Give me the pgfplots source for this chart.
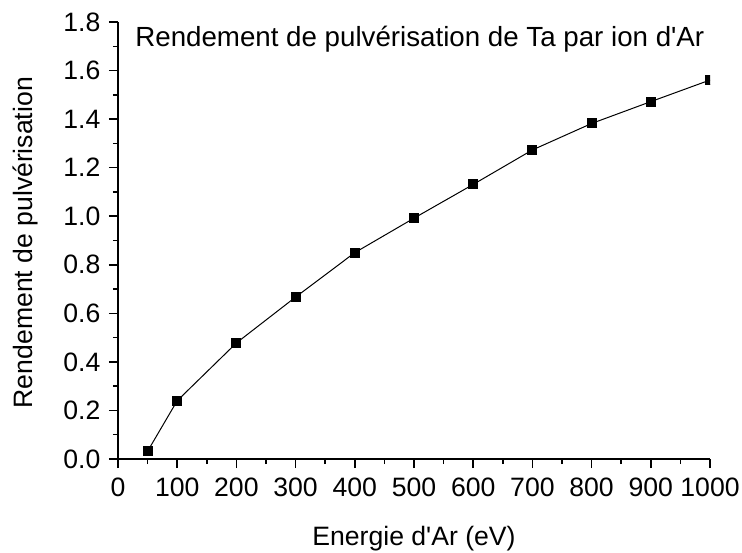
\documentclass[border=0pt]{standalone}
\usepackage{fontspec}
\setmainfont{Liberation Sans}
\usepackage{pgfplots}
\pgfplotsset{compat=1.18}

\pgfplotstableread{
E     Y
50    0.032
100   0.240
200   0.478
300   0.667
400   0.850
500   0.992
600   1.131
700   1.273
800   1.382
900   1.472
1000  1.561
}\yieldtab

\begin{document}
\begin{tikzpicture}
\begin{axis}[name=ax,
  scale only axis, width=296pt, height=218.5pt,
  xmin=0, xmax=1000, ymin=0, ymax=1.8,
  axis lines*=left, axis line style={-, line width=0.75pt},
  tick align=outside, tick style={line width=0.75pt, black},
  major tick length=4.5pt, minor tick length=2.5pt,
  xtick={0,100,200,300,400,500,600,700,800,900,1000},
  ytick={0,0.2,0.4,0.6,0.8,1.0,1.2,1.4,1.6,1.8},
  minor x tick num=1, minor y tick num=1,
  clip marker paths=true,
  font=\fontsize{13.3}{16}\selectfont,
  /pgf/number format/assume math mode=true,
  yticklabel style={xshift=-0.8pt, /pgf/number format/.cd, fixed, fixed zerofill, precision=1},
  xticklabel style={yshift=-1.5pt, /pgf/number format/.cd, fixed, precision=0, 1000 sep={}},
  xlabel={Energie d\textquotesingle Ar (eV)}, ylabel={Rendement de pulvérisation},
  xlabel style={at={(axis description cs:0.5,-0.197)}, anchor=base},
  ylabel style={at={(axis description cs:-0.1436,0.495)}, anchor=base},
]
\addplot[black, line width=0.5pt, mark=square*, mark size=2.25pt,
  mark options={solid, fill=black}] table[x=E, y=Y] {\yieldtab};
\node[anchor=base west, inner sep=0pt, font=\fontsize{13.85}{16}\selectfont]
  at (rel axis cs:0.0287,0.9435)
  {Rendement de pulvérisation de Ta par ion d\textquotesingle Ar};
\end{axis}
\pgfresetboundingbox
\path[use as bounding box] ([xshift=-59pt,yshift=-46.5pt]ax.south west)
  rectangle ([xshift=16pt,yshift=11pt]ax.north east);
\end{tikzpicture}
\end{document}
